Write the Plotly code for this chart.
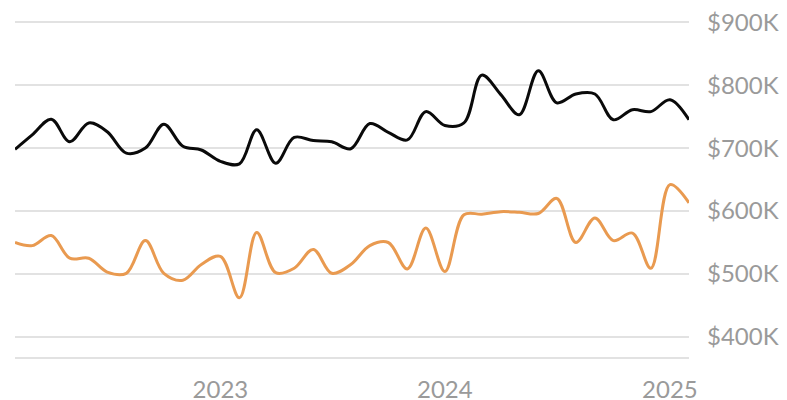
import plotly.graph_objects as go
import pandas as pd

# Monthly values, Feb 2022 .. Feb 2025 (in $K)
months = pd.date_range("2022-02-01", "2025-02-01", freq="MS")

black_values = [698, 721, 746, 710, 740, 726, 692, 700, 738, 703, 697, 679,
                675, 729, 676, 717, 712, 710, 699, 739, 725, 713, 758, 736,
                740, 816, 785, 753, 823, 772, 786, 786, 745, 761, 758, 777,
                745]

orange_values = [550, 545, 561, 525, 525, 503, 501, 553, 501, 490, 515, 528,
                 462, 566, 502, 509, 539, 501, 515, 545, 550, 508, 573, 504,
                 594, 595, 599, 598, 596, 620, 550, 589, 553, 565, 509, 642,
                 613]

y_ticks = [400, 500, 600, 700, 800, 900]
y_tick_labels = ["$400K", "$500K", "$600K", "$700K", "$800K", "$900K"]
x_ticks = ["2023-01-01", "2024-01-01", "2025-01-01"]
x_tick_labels = ["2023", "2024", "2025"]

fig = go.Figure()

fig.add_trace(go.Scatter(
    x=months,
    y=[v * 1000 for v in black_values],
    mode="lines",
    line=dict(color="#0a0a0a", width=3, shape="spline", smoothing=1),
    showlegend=False,
))

fig.add_trace(go.Scatter(
    x=months,
    y=[v * 1000 for v in orange_values],
    mode="lines",
    line=dict(color="#E99A50", width=3, shape="spline", smoothing=1),
    showlegend=False,
))

# page body has an 8px margin, so the figure is sized to fit inside 787x400
fig.update_layout(
    width=779,
    height=392,
    margin=dict(l=7, r=98, t=2, b=43),
    plot_bgcolor="white",
    paper_bgcolor="white",
    font=dict(family="Lato, sans-serif", size=24, color="#9a9a9a"),
    xaxis=dict(
        range=["2022-02-01", "2025-02-01"],
        tickvals=x_ticks,
        ticktext=x_tick_labels,
        showgrid=False,
        showline=True,
        linecolor="#e2e2e2",
        linewidth=1.5,
        ticks="",
        ticklabelstandoff=10,
        ticklabeloverflow="allow",
        zeroline=False,
        automargin=False,
    ),
    yaxis=dict(
        side="right",
        range=[368000, 919500],
        tickvals=[v * 1000 for v in y_ticks],
        ticktext=y_tick_labels,
        showgrid=True,
        gridcolor="#e2e2e2",
        gridwidth=1.5,
        ticks="",
        ticklabelstandoff=17,
        ticklabeloverflow="allow",
        zeroline=False,
        automargin=False,
    ),
)

fig.write_html("out.html")
